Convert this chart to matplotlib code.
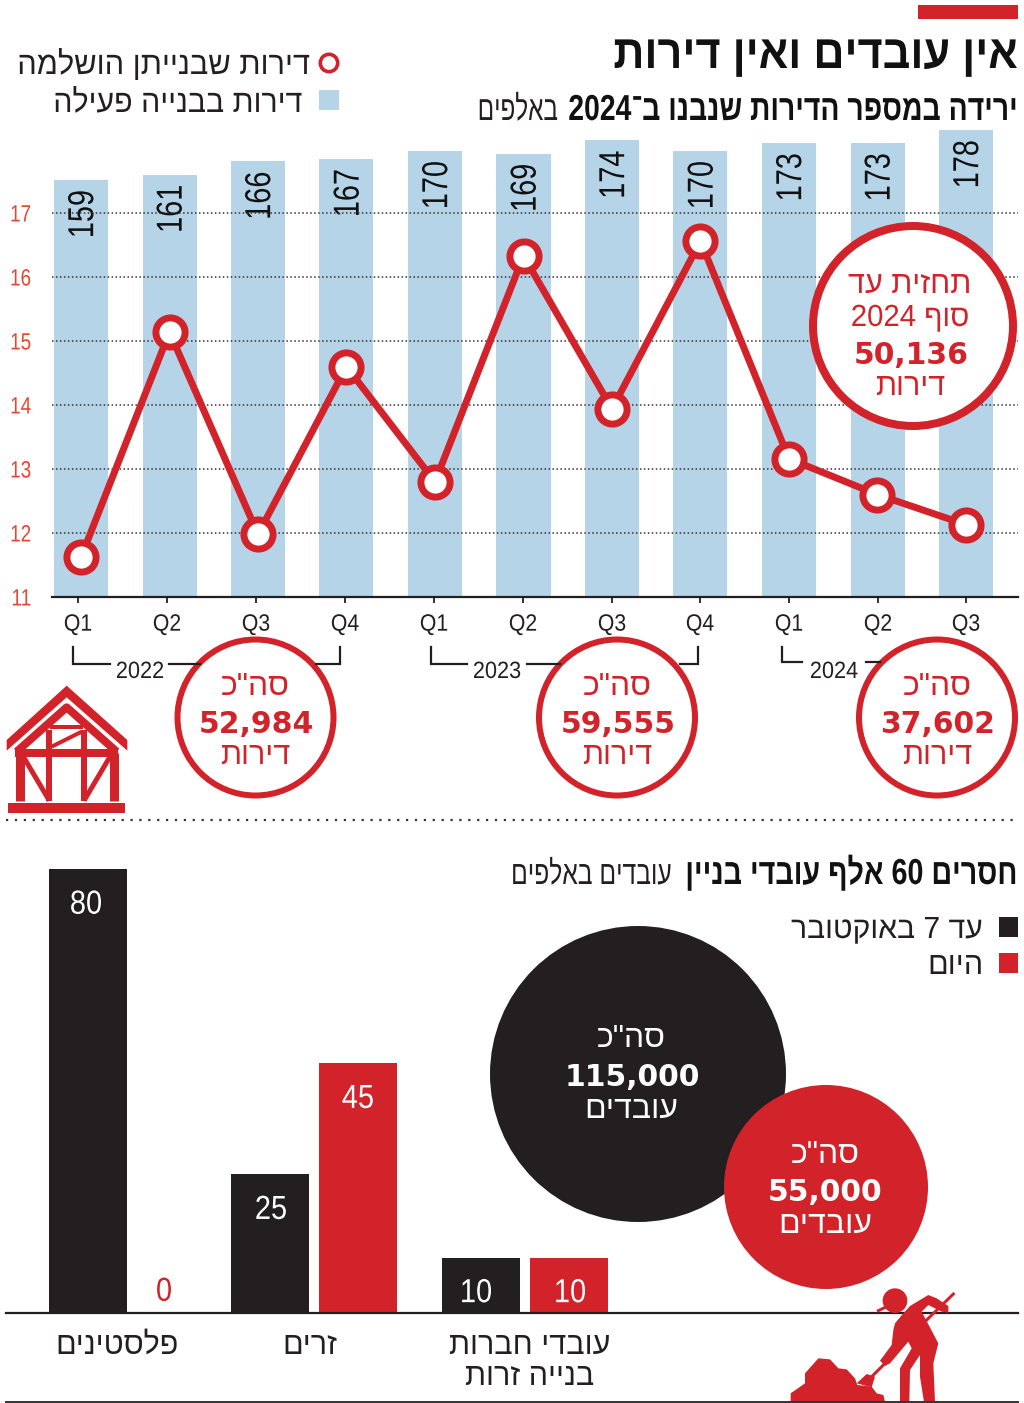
import re
import matplotlib
matplotlib.use('Agg')
import matplotlib.pyplot as plt
from matplotlib.patches import Circle, Polygon, Rectangle
from matplotlib.patheffects import AbstractPathEffect
from matplotlib.transforms import Affine2D, Bbox

W, H = 1024, 1403
PX = 0.72  # one pixel in points at dpi 100

RED = '#d2232a'
TICK_RED = '#e8462f'
BLUE = '#b5d4e8'
DARK = '#231f20'

WIDE = ['Liberation Sans', 'DejaVu Sans']
NUM = ['DejaVu Sans']

# top chart
quarters = ['Q1', 'Q2', 'Q3', 'Q4', 'Q1', 'Q2', 'Q3', 'Q4', 'Q1', 'Q2', 'Q3']
active = [159, 161, 166, 167, 170, 169, 174, 170, 173, 173, 178]
completed = [11.62, 15.14, 11.98, 14.6, 12.8, 16.33, 13.94, 16.56, 13.16, 12.6, 12.13]
y_ticks = [11, 12, 13, 14, 15, 16, 17]

# bottom chart
groups = ['פלסטינים', 'זרים', 'עובדי חברות\nבנייה זרות']
workers_before = [80, 25, 10]
workers_today = [0, 45, 10]

# totals under the chart
totals = ['52,984', '59,555', '37,602']
years = ['2022', '2023', '2024']


def rtl(s):
    # matplotlib has no bidi, so flip the Hebrew and keep numbers in order
    return '\n'.join(''.join(re.findall(r'[0-9,]+|.', line)[::-1]) for line in s.split('\n'))


class Squeeze(AbstractPathEffect):
    # no condensed font here, so scale the glyphs about the text anchor
    def __init__(self, text, sx=1, sy=1):
        super().__init__()
        self.text, self.sx, self.sy = text, sx, sy

    def anchor(self):
        return self.text.get_transform().transform(self.text.get_unitless_position())

    def draw_path(self, renderer, gc, tpath, affine, rgbFace=None):
        a, b = self.anchor()
        extra = Affine2D().translate(-a, -b).scale(self.sx, self.sy).translate(a, b)
        renderer.draw_path(gc, tpath, affine + extra, rgbFace)


def narrow(t, sx=1, sy=1):
    effect = Squeeze(t, sx, sy)
    t.set_path_effects([effect])
    orig = t.get_window_extent

    def extent(renderer=None, dpi=None):
        box = orig(renderer, dpi)
        a, b = effect.anchor()
        return Bbox([[a + (box.x0 - a) * sx, b + (box.y0 - b) * sy],
                     [a + (box.x1 - a) * sx, b + (box.y1 - b) * sy]])
    t.get_window_extent = extent
    return t


def axes_px(left, top, right, bottom, **kw):
    return fig.add_axes([left / W, 1 - bottom / H, (right - left) / W, (bottom - top) / H], **kw)


fig = plt.figure(figsize=(W / 100, H / 100), dpi=100, facecolor='white')

# ---- top chart, bars behind and line in front
x0, dx = 81, 88.5
left, right = 52, 1018
xlim = ((left - x0) / dx, (right - x0) / dx)
xs = list(range(len(quarters)))
tick_px = [78, 167, 256, 345, 434, 523, 612, 700, 789, 878, 966]

ax_bar = axes_px(left, 130, right, 597)
ax_bar.bar(xs, active, width=54 / dx, color=BLUE)
ax_bar.set_xlim(xlim)
ax_bar.set_ylim(0, 178)
ax_bar.axis('off')
for x, v in zip(xs, active):
    t = ax_bar.text(x + 0.03, v - 10 / 2.62, str(v), rotation=90, ha='center', va='top',
                    fontsize=26, family=WIDE, color='#111111')
    narrow(t, sy=0.8)

ax = axes_px(left, 130, right, 597)
ax.patch.set_alpha(0)
ax.set_xlim(xlim)
ax.set_ylim(11, 11 + 467 / 64)
for s in ['top', 'left', 'right']:
    ax.spines[s].set_visible(False)
ax.spines['bottom'].set_linewidth(1.6)
ax.spines['bottom'].set_color(DARK)
ax.set_yticks(y_ticks)
ax.set_yticklabels([str(t) for t in y_ticks], family=WIDE, fontsize=17, color=TICK_RED)
ax.tick_params(axis='y', length=0, pad=15)
ax.set_xticks([(p - x0) / dx for p in tick_px])
ax.set_xticklabels(quarters, family=WIDE, fontsize=17, color=DARK)
ax.tick_params(axis='x', length=4.5, width=1.3, color=DARK, pad=7.5)
for t in ax.get_yticklabels():
    narrow(t, sx=0.8)
for t in ax.get_xticklabels():
    narrow(t, sx=0.9)
ax.grid(axis='y', linestyle=(0, (1, 1.6)), color='#333333', linewidth=1.1)
ax.grid(axis='x', visible=False)
ax.set_axisbelow(True)
ax.plot(xs, completed, color=RED, lw=5, marker='o', ms=21, mfc='white', mec=RED, mew=5,
        clip_on=False, zorder=5)

# ---- bottom chart
bx0, bx1 = 6, 1018
ax2 = axes_px(bx0, 869, bx1, 1313)
ax2.set_xlim(bx0, bx1)
ax2.set_ylim(0, 80)
before_x = [88, 270.5, 481]
today_x = [177, 358.5, 569]
before_label_x = [86, 271, 476]
today_label_x = [164, 358, 570]
group_x = [117, 310, 530]
ax2.bar(before_x, workers_before, width=78, color=DARK)
ax2.bar(today_x, workers_today, width=78, color=RED)
for x, v in zip(before_label_x, workers_before):
    narrow(ax2.text(x, v - 8.05, str(v), ha='center', va='baseline', fontsize=24,
                    family=WIDE, color='white'), sx=0.87)
for x, v in zip(today_label_x, workers_today):
    narrow(ax2.text(x, v - 8.05 if v else 2.2, str(v), ha='center', va='baseline', fontsize=24,
                    family=WIDE, color='white' if v else RED), sx=0.87)
for s in ['top', 'left', 'right']:
    ax2.spines[s].set_visible(False)
ax2.spines['bottom'].set_linewidth(1.6)
ax2.spines['bottom'].set_color(DARK)
ax2.set_yticks([])
ax2.set_xticks(group_x)
ax2.set_xticklabels([rtl(g) for g in groups], family=WIDE, fontsize=22, color=DARK, linespacing=1.05)
ax2.tick_params(axis='x', length=0, pad=13)

# ---- everything else in pixel coordinates
ov = fig.add_axes([0, 0, 1, 1], zorder=10)
ov.patch.set_alpha(0)
ov.set_xlim(0, W)
ov.set_ylim(H, 0)
ov.axis('off')


def txt(x, y, s, size, ha='center', color=DARK, family=WIDE, weight='normal', sx=1):
    t = ov.text(x, y, rtl(s), fontsize=size, ha=ha, va='baseline', color=color,
                family=family, fontweight=weight)
    if sx != 1:
        narrow(t, sx=sx)
    return t


ov.add_patch(Rectangle((918, 5), 100, 14, color=RED, lw=0))
txt(1018, 68, 'אין עובדים ואין דירות', 34, ha='right', weight='bold', color='#111111', sx=0.916)
txt(1018, 120, 'ירידה במספר הדירות שנבנו ב־2024', 26, ha='right', weight='bold', color='#111111', sx=0.785)
txt(558, 120, 'באלפים', 25, ha='right', sx=0.7)

# legends
ov.add_patch(Circle((329, 63), 8.7, fc='white', ec=RED, lw=3.6 * PX))
txt(311, 74, 'דירות שבנייתן הושלמה', 23, ha='right', sx=0.963)
ov.add_patch(Rectangle((319, 90), 20, 20, color=BLUE, lw=0))
txt(303, 112, 'דירות בבנייה פעילה', 23, ha='right', sx=0.95)

# year brackets
bracket_lines = [
    ([73, 73, 110], [647, 664, 664]), ([169, 200], [664, 664]), ([316, 340, 340], [664, 664, 647]),
    ([431, 431, 467], [647, 664, 664]), ([527, 560], [664, 664]), ([680, 698, 698], [664, 664, 647]),
    ([782, 782, 802], [647, 662, 662]), ([866, 880], [662, 662]),
]
for bx, by in bracket_lines:
    ov.plot(bx, by, color=DARK, lw=1.6, solid_joinstyle='miter')
for x, y_ in zip([140, 497, 834], years):
    txt(x, 678, y_, 17, sx=0.92)

# totals circles
for cx, t in zip([255.5, 617, 937], totals):
    ov.add_patch(Circle((cx, 717.5), 78, fc='white', ec=RED, lw=6 * PX))
    txt(cx, 695, 'סה"כ', 23, color=RED)
    txt(cx + 1, 733, t, 21.5, color=RED, family=NUM, weight='bold')
    txt(cx, 764, 'דירות', 22, color=RED)

# forecast circle
ov.add_patch(Circle((913, 326), 100, fc='white', ec=RED, lw=8 * PX))
txt(910, 293, 'תחזית עד', 22, color=RED)
txt(910, 326, 'סוף 2024', 22, color=RED, sx=0.96)
txt(911, 364, '50,136', 21.5, color=RED, family=NUM, weight='bold')
txt(910, 395, 'דירות', 22, color=RED)

# separators
ov.plot([6, 1018], [820, 820], color='#333333', lw=1.6, linestyle=(0, (1, 3)))
ov.plot([6, 1018], [1402, 1402], color='#333333', lw=1.4)

# bottom heading and legend
txt(1018, 884, 'חסרים 60 אלף עובדי בניין', 26, ha='right', weight='bold', color='#111111', sx=0.795)
txt(672, 884, 'עובדים באלפים', 24, ha='right', sx=0.74)
ov.add_patch(Rectangle((999, 917), 19, 20, color=DARK, lw=0))
ov.add_patch(Rectangle((999, 953), 19, 20, color=RED, lw=0))
txt(983, 938, 'עד 7 באוקטובר', 22, ha='right', sx=0.985)
txt(983, 974, 'היום', 22, ha='right')

# bubbles
ov.add_patch(Circle((638, 1074), 148, color=DARK, lw=0))
ov.add_patch(Circle((826, 1187), 102, color=RED, lw=0))
txt(631, 1047, 'סה"כ', 23, color='white')
txt(632, 1086, '115,000', 21.5, color='white', family=NUM, weight='bold')
txt(631, 1118, 'עובדים', 23, color='white')
txt(825, 1163, 'סה"כ', 23, color='white')
txt(825, 1201, '55,000', 21.5, color='white', family=NUM, weight='bold')
txt(825, 1233, 'עובדים', 23, color='white')


# house icon, traced in zoom coordinates of the crop at (0,590)
def hp(pts):
    return [(x / 3, 590 + y / 3) for x, y in pts]


ov.add_patch(Polygon(hp([(20, 450), (200, 287), (382, 450), (382, 482), (200, 322), (20, 482)]), color=RED, lw=0))
ov.add_patch(Rectangle((8, 803), 117, 10, color=RED, lw=0))
house = [
    ([(50, 485), (200, 352), (350, 485)], 8), ([(45, 488), (355, 488)], 8),
    ([(60, 488), (60, 632)], 9), ([(342, 488), (342, 632)], 9),
    ([(148, 420), (148, 632)], 6), ([(252, 420), (252, 632)], 6),
    ([(150, 412), (250, 412)], 4), ([(155, 470), (245, 425)], 4),
    ([(70, 500), (148, 632)], 5), ([(330, 500), (252, 632)], 5),
]
for pts, w in house:
    p = hp(pts)
    ov.plot([a for a, b in p], [b for a, b in p], color=RED, lw=w * PX, solid_capstyle='butt')


def wp(pts):
    return [(770 + x / 3, 1270 + y / 3) for x, y in pts]


ov.add_patch(Circle((770 + 375 / 3, 1270 + 92 / 3), 37 / 3, color=RED, lw=0))
body = [(375, 160), (400, 130), (420, 108), (475, 75), (500, 85), (535, 108), (535, 128), (515, 125),
        (475, 105), (455, 125), (505, 220), (490, 280), (495, 396), (462, 396), (450, 320), (450, 255),
        (420, 300), (418, 396), (390, 396), (390, 295), (425, 235), (415, 215), (360, 280), (345, 288),
        (330, 272), (365, 225), (370, 180)]
ov.add_patch(Polygon(wp(body), color=RED, lw=0))
pile = [(62, 396), (62, 370), (105, 340), (105, 310), (145, 265), (180, 268), (205, 295), (230, 298),
        (255, 325), (262, 345), (305, 350), (320, 370), (340, 375), (345, 396)]
ov.add_patch(Polygon(wp(pile), color=RED, lw=0))
ov.add_patch(Polygon(wp([(260, 340), (290, 312), (315, 320), (305, 352)]), color=RED, lw=0))
for seg in ([(550, 72), (470, 150)], [(340, 285), (300, 325)], [(325, 122), (350, 110)]):
    p = wp(seg)
    ov.plot([a for a, b in p], [b for a, b in p], color=RED, lw=3 * PX)

fig.savefig('out.png', dpi=100)
